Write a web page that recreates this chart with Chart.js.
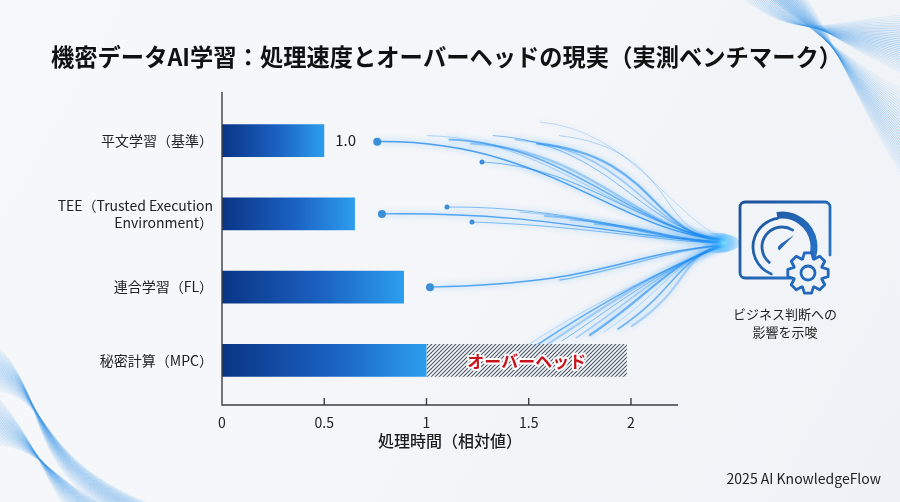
<!DOCTYPE html>
<html lang="ja">
<head>
<meta charset="utf-8">
<script src="https://cdn.jsdelivr.net/npm/chart.js@4.4.1/dist/chart.umd.min.js"></script>
<style>
  html, body { margin: 0; padding: 0; background: #f3f6f9; }
  #wrap { width: 900px; height: 502px; }
</style>
</head>
<body>
<div id="wrap"><canvas id="chart" width="900" height="502"></canvas></div>
<script>
// data
const categories = ['平文学習（基準）', ['TEE（Trusted Execution', 'Environment）'], '連合学習（FL）', '秘密計算（MPC）'];
const baseTime = [0.5, 0.65, 0.89, 1.0];
const overheadTime = [0, 0, 0, 0.98];
const valueLabels = ['1.0', '', '', ''];
const xTicks = [0, 0.5, 1, 1.5, 2];
const xMax = 2.23;

const titleText = '機密データAI学習：処理速度とオーバーヘッドの現実（実測ベンチマーク）';
const axisTitle = '処理時間（相対値）';
const overheadText = 'オーバーヘッド';
const iconText = ['ビジネス判断への', '影響を示唆'];
const footerText = '2025 AI KnowledgeFlow';

const FONT = '"Noto Sans CJK JP", "Noto Sans", sans-serif';
Chart.defaults.font.family = FONT;
Chart.defaults.color = '#222';

const canvas = document.getElementById('chart');
const ctx = canvas.getContext('2d');

// hatch pattern for the overhead part
function makeHatch() {
  const c = document.createElement('canvas');
  c.width = 4; c.height = 4;
  const g = c.getContext('2d');
  g.fillStyle = 'rgba(250,251,252,0.7)';
  g.fillRect(0, 0, 4, 4);
  g.strokeStyle = '#485466';
  g.lineWidth = 1.1;
  g.beginPath();
  g.moveTo(-1, 5); g.lineTo(5, -1);
  g.moveTo(-3, 3); g.lineTo(3, -3);
  g.moveTo(1, 7); g.lineTo(7, 1);
  g.stroke();
  return ctx.createPattern(c, 'repeat');
}
const hatch = makeHatch();

function barGradient(context) {
  const chart = context.chart;
  if (!chart.chartArea) return '#1f6fd0';
  const xs = chart.scales.x;
  const x0 = xs.getPixelForValue(0);
  const x1 = xs.getPixelForValue(context.raw || 0.01);
  const g = chart.ctx.createLinearGradient(x0, 0, x1, 0);
  g.addColorStop(0, '#0a3585');
  g.addColorStop(0.55, '#1b62c3');
  g.addColorStop(1, '#2c9eee');
  return g;
}

// decorative background waves in the corners
function drawWaves(c) {
  c.save();
  c.lineWidth = 0.9;
  for (let i = 0; i < 30; i++) {
    const t = i / 29;
    const a = (0.10 + 0.32 * Math.sin(Math.PI * t)).toFixed(3);
    c.strokeStyle = 'rgba(60,150,230,' + a + ')';
    c.beginPath();
    c.moveTo(740 + t * 60, -4);
    c.bezierCurveTo(800 + t * 20, 45 - t * 10, 830 + t * 10, 20 + t * 20, 905, 15 + t * 60);
    c.stroke();
    c.beginPath();
    c.moveTo(765 + t * 40, -4);
    c.bezierCurveTo(830 + t * 10, 40 + t * 10, 860 - t * 10, 70 + t * 20, 905, 90 + t * 90);
    c.stroke();
    c.beginPath();
    c.moveTo(-4, 345 + t * 45);
    c.bezierCurveTo(45 + t * 10, 390 + t * 10, 25 + t * 10, 455 + t * 5, 100 + t * 55, 506);
    c.stroke();
    c.beginPath();
    c.moveTo(-4, 395 + t * 50);
    c.bezierCurveTo(35, 440 + t * 5, 45 + t * 10, 480, 65 + t * 40, 506);
    c.stroke();
  }
  c.restore();
}

// flowing lines from the bars to the icon
function strand(c, x0, y0, c1x, c1y, c2x, c2y, fx, fy, w, a) {
  c.strokeStyle = 'rgba(35,140,240,' + a + ')';
  c.lineWidth = w;
  c.beginPath();
  c.moveTo(x0, y0);
  c.bezierCurveTo(c1x, c1y, c2x, c2y, fx, fy);
  c.stroke();
}

function drawFlow(chart) {
  const c = chart.ctx;
  const m = chart.getDatasetMeta(0).data;
  const fx = 724, fy = 243;
  const d1 = { x: m[0].x + 53, y: m[0].y + 1 };
  const d2 = { x: m[1].x + 27, y: m[1].y };
  const d3 = { x: m[2].x + 26, y: m[2].y };
  c.save();
  c.shadowColor = 'rgba(40,160,255,0.7)';
  c.shadowBlur = 6;
  c.lineCap = 'round';
  // top bundle
  strand(c, d1.x, d1.y, d1.x + 170, d1.y - 2, fx - 110, fy - 12, fx, fy - 3, 1.5, 0.8);
  for (let i = 0; i < 7; i++) {
    const sx = d1.x + 50 + i * 22, sy = d1.y - 6 + (i % 3) * 4;
    strand(c, sx, sy, sx + 120, sy + 2 + i * 2, fx - 95 + i * 4, fy - 14 + i, fx, fy - 4 + (i % 3),
      0.9 + (i % 3) * 0.7, 0.35 + (i % 2) * 0.25);
  }
  strand(c, 482, 162, 580, 166, 640, 228, fx, fy - 2, 1.1, 0.6);
  strand(c, 540, 122, 630, 130, 670, 215, fx, fy - 4, 0.8, 0.3);
  // middle bundle
  strand(c, d2.x, d2.y, d2.x + 170, d2.y - 2, fx - 110, fy - 6, fx, fy - 1, 1.3, 0.75);
  strand(c, 447, 207, 570, 206, 650, 238, fx, fy - 1, 1.0, 0.55);
  strand(c, 472, 222, 590, 226, 660, 242, fx, fy, 1.0, 0.55);
  for (let i = 0; i < 4; i++) {
    const sx = 520 + i * 25, sy = 212 + i * 4;
    strand(c, sx, sy, sx + 70, sy + 4, fx - 70, fy - 4, fx, fy, 1.0 + (i % 2) * 1.2, 0.4);
  }
  // lower bundle
  strand(c, d3.x, d3.y, d3.x + 180, d3.y - 4, fx - 110, fy + 12, fx, fy + 2, 1.5, 0.75);
  for (let i = 0; i < 9; i++) {
    const sx = 520 + i * 14, sy = 350 - i * 3;
    strand(c, sx, sy, sx + 60, sy - 40, fx - 70 + i * 3, fy + 30 - i * 2, fx, fy + 3 - (i % 3),
      0.9 + (i % 3) * 0.7, 0.3 + (i % 2) * 0.3);
  }
  strand(c, 560, 280, 620, 270, 670, 250, fx, fy + 2, 1.3, 0.5);
  c.restore();

  // dots
  c.save();
  c.fillStyle = '#3b8fd9';
  [[d1, 4], [d2, 4], [d3, 4], [{ x: 482, y: 162 }, 2.5], [{ x: 447, y: 207 }, 2.5], [{ x: 472, y: 222 }, 2.5]].forEach(([p, r]) => {
    c.beginPath(); c.arc(p.x, p.y, r, 0, Math.PI * 2); c.fill();
  });
  // glow at the focal point
  const rg = c.createRadialGradient(fx, fy, 0, fx, fy, 20);
  rg.addColorStop(0, 'rgba(130,230,255,0.95)');
  rg.addColorStop(0.4, 'rgba(60,175,255,0.55)');
  rg.addColorStop(1, 'rgba(60,175,255,0)');
  c.fillStyle = rg;
  c.beginPath(); c.ellipse(fx - 8, fy, 24, 10, 0, 0, Math.PI * 2); c.fill();
  c.restore();
}

function drawIcon(c) {
  c.save();
  const g = c.createLinearGradient(740, 202, 830, 278);
  g.addColorStop(0, '#1d4f96');
  g.addColorStop(1, '#2a7bd2');
  c.strokeStyle = g;
  c.lineWidth = 2.8;
  c.lineCap = 'round';
  // frame with a gap where the gear sits
  const L = 740, T = 202, R = 830, B = 278, r = 5;
  c.beginPath();
  c.moveTo(792, B);
  c.lineTo(L + r, B);
  c.arcTo(L, B, L, B - r, r);
  c.lineTo(L, T + r);
  c.arcTo(L, T, L + r, T, r);
  c.lineTo(R - r, T);
  c.arcTo(R, T, R, T + r, r);
  c.lineTo(R, 255);
  c.stroke();
  // gauge
  const cx = 782, cy = 247;
  c.beginPath(); c.arc(cx, cy, 20, Math.PI * 0.72, Math.PI * 1.68); c.stroke();
  c.beginPath(); c.arc(cx, cy, 29, Math.PI * 0.62, Math.PI * 1.45); c.stroke();
  c.lineWidth = 7;
  c.lineCap = 'butt';
  c.beginPath(); c.arc(cx, cy, 32, Math.PI * 1.45, Math.PI * 2.12); c.stroke();
  // needle
  c.fillStyle = '#2466b8';
  c.beginPath();
  c.moveTo(cx + 12, cy - 12);
  c.lineTo(cx - 1.5, cy - 3);
  c.arc(cx - 1, cy + 1, 3, Math.PI * 1.3, Math.PI * 0.7, true);
  c.closePath();
  c.fill();
  // gear
  const gx = 808, gy = 273, teeth = 8;
  c.beginPath();
  for (let i = 0; i < teeth; i++) {
    const a = (i / teeth) * Math.PI * 2;
    const s = Math.PI / teeth;
    const pts = [[a - s * 0.95, 15], [a - s * 0.45, 20.5], [a + s * 0.45, 20.5], [a + s * 0.95, 15]];
    pts.forEach(([ang, rad], k) => {
      const px = gx + Math.cos(ang) * rad, py = gy + Math.sin(ang) * rad;
      if (i === 0 && k === 0) c.moveTo(px, py); else c.lineTo(px, py);
    });
  }
  c.closePath();
  c.fillStyle = '#eef2f6';
  c.fill();
  c.lineWidth = 2.8;
  c.lineJoin = 'round';
  c.strokeStyle = '#2468bd';
  c.stroke();
  c.beginPath(); c.arc(gx, gy, 7, 0, Math.PI * 2); c.stroke();
  c.restore();
}

const decorPlugin = {
  id: 'decor',
  beforeDraw(chart) {
    const c = chart.ctx;
    const g = c.createLinearGradient(0, 0, 900, 502);
    g.addColorStop(0, '#f6f8fa');
    g.addColorStop(0.5, '#f4f6f9');
    g.addColorStop(1, '#eef2f6');
    c.save();
    c.fillStyle = g;
    c.fillRect(0, 0, chart.width, chart.height);
    c.restore();
    drawWaves(c);
  },
  beforeDatasetsDraw(chart) {
    drawFlow(chart);
  },
  afterDatasetsDraw(chart) {
    const c = chart.ctx;
    const area = chart.chartArea;
    const xs = chart.scales.x;
    const x0 = xs.getPixelForValue(0);
    const axisY = area.bottom + 8;
    c.save();
    // axes
    c.strokeStyle = '#3a3f47';
    c.lineWidth = 1.4;
    c.beginPath();
    c.moveTo(x0, area.top - 12);
    c.lineTo(x0, axisY);
    c.lineTo(area.right, axisY);
    xTicks.forEach(v => {
      if (v === 0) return;
      const px = xs.getPixelForValue(v);
      c.moveTo(px, axisY);
      c.lineTo(px, axisY - 7);
    });
    c.stroke();

    // value label
    const m0 = chart.getDatasetMeta(0).data;
    c.fillStyle = '#222';
    c.font = '15px ' + FONT;
    c.textAlign = 'left';
    c.textBaseline = 'middle';
    valueLabels.forEach((t, i) => {
      if (t) c.fillText(t, m0[i].x + 11, m0[i].y);
    });

    // overhead label
    const m1 = chart.getDatasetMeta(1).data;
    overheadTime.forEach((v, i) => {
      if (!v) return;
      const el = m1[i];
      const cx = (el.x + el.base) / 2;
      c.font = 'bold 17px ' + FONT;
      c.textAlign = 'center';
      c.lineJoin = 'round';
      c.lineWidth = 4;
      c.strokeStyle = '#ffffff';
      c.strokeText(overheadText, cx, el.y + 1);
      c.fillStyle = '#c8141c';
      c.fillText(overheadText, cx, el.y + 1);
    });

    // title
    c.fillStyle = '#111';
    c.font = 'bold 24px ' + FONT;
    c.textAlign = 'left';
    c.fillText(titleText, 51, 57, 791);

    // icon + caption
    drawIcon(c);
    c.fillStyle = '#222';
    c.font = '13px ' + FONT;
    c.textAlign = 'center';
    c.fillText(iconText[0], 785, 314);
    c.fillText(iconText[1], 785, 332);

    // footer
    c.font = '14px ' + FONT;
    c.textAlign = 'right';
    c.fillText(footerText, 881, 479);
    c.restore();
  }
};

new Chart(canvas, {
  type: 'bar',
  data: {
    labels: categories,
    datasets: [
      {
        label: '処理時間',
        data: baseTime,
        backgroundColor: barGradient,
        borderWidth: 0,
        barPercentage: 0.45,
        categoryPercentage: 1.0
      },
      {
        label: 'オーバーヘッド',
        data: overheadTime,
        backgroundColor: hatch,
        borderWidth: 0,
        barPercentage: 0.45,
        categoryPercentage: 1.0
      }
    ]
  },
  options: {
    indexAxis: 'y',
    responsive: false,
    animation: false,
    layout: { padding: { top: 104, right: 222, bottom: 51, left: 0 } },
    plugins: {
      legend: { display: false },
      tooltip: { enabled: false },
      title: { display: false }
    },
    scales: {
      x: {
        stacked: true,
        min: 0,
        max: xMax,
        border: { display: false },
        grid: { display: false, drawTicks: false },
        ticks: {
          stepSize: 0.5,
          includeBounds: false,
          padding: 17,
          color: '#222',
          font: { size: 14 },
          callback: v => (xTicks.includes(v) ? String(v) : '')
        },
        title: {
          display: true,
          text: axisTitle,
          color: '#1a1a1a',
          font: { size: 16, weight: '500' },
          padding: { top: 0, bottom: 0 }
        },
        afterFit: s => { s.height = 54; }
      },
      y: {
        stacked: true,
        border: { display: false },
        grid: { display: false, drawTicks: false },
        ticks: {
          padding: 9,
          color: '#222',
          font: { size: 14, lineHeight: 1.22 }
        },
        afterFit: s => { s.width = 222; }
      }
    }
  },
  plugins: [decorPlugin]
});
</script>
</body>
</html>
